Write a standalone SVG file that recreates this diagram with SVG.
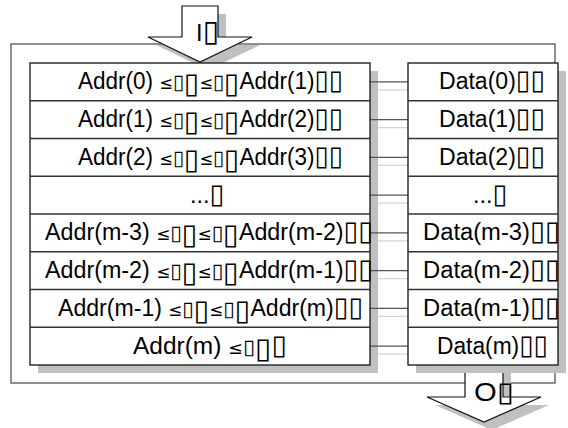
<svg xmlns="http://www.w3.org/2000/svg" width="568" height="428" viewBox="0 0 568 428">
  <style>
    .frame { fill: #fff; stroke: #555; stroke-width: 1.3; }
    .shadow { fill: #c0c0c0; stroke: none; }
    .arrow { fill: #fff; stroke: #111; stroke-width: 1.2; }
    .col { fill: #fff; stroke: #111; stroke-width: 1.3; }
    .sep { stroke: #333; stroke-width: 1.3; }
    .link { stroke: #555; stroke-width: 1.3; }
    .link-sh { stroke: #d4d4d4; stroke-width: 1.3; }
    text { font-family: "Liberation Sans", "DejaVu Sans", sans-serif; font-size: 23.5px; fill: #000; }
    .cell { text-anchor: middle; }
    .tofu { font-family: "DejaVu Sans", sans-serif; font-size: 27px; }
    .tall { font-family: "DejaVu Sans", sans-serif; font-size: 29px; }
    .sm { font-family: "DejaVu Sans", sans-serif; font-size: 21px; }
    .le { font-family: "DejaVu Sans", sans-serif; font-size: 17px; }
  </style>

  <!-- enclosing frame -->
  <rect id="frame" class="frame" x="11" y="44" width="544" height="339"/>

  <!-- input arrow -->
  <g id="in-arrow">
    <polygon class="shadow" transform="translate(8,8)" points="182,6 218,6 218,37 252,37 200,62 148,37 182,37"/>
    <polygon class="arrow" points="182,6 218,6 218,37 252,37 200,62 148,37 182,37"/>
    <text x="196" y="41">I<tspan class="tofu" style="font-size:30px">▯</tspan></text>
  </g>

  <!-- output arrow -->
  <g id="out-arrow">
    <polygon class="shadow" transform="translate(8,8)" points="465,365 503,365 503,397 541,397 484,422 427,397 465,397"/>
    <polygon class="arrow" points="465,365 503,365 503,397 541,397 484,422 427,397 465,397"/>
    <text x="474" y="401" style="font-size:25px" textLength="40" lengthAdjust="spacingAndGlyphs">O<tspan class="tofu">▯</tspan></text>
  </g>

  <!-- column shadows -->
  <rect class="shadow" x="38" y="71" width="340" height="302"/>
  <rect class="shadow" x="416" y="71" width="150" height="302"/>

  <!-- connectors: address row to data row -->
  <g id="connectors">
    <g class="link-sh">
      <line x1="378" y1="89.9" x2="416" y2="89.9"/>
      <line x1="378" y1="127.6" x2="416" y2="127.6"/>
      <line x1="378" y1="165.4" x2="416" y2="165.4"/>
      <line x1="378" y1="203.1" x2="416" y2="203.1"/>
      <line x1="378" y1="240.9" x2="416" y2="240.9"/>
      <line x1="378" y1="278.6" x2="416" y2="278.6"/>
      <line x1="378" y1="316.4" x2="416" y2="316.4"/>
      <line x1="378" y1="354.1" x2="416" y2="354.1"/>
    </g>
    <g class="link">
      <line x1="370" y1="81.9" x2="408" y2="81.9"/>
      <line x1="370" y1="119.6" x2="408" y2="119.6"/>
      <line x1="370" y1="157.4" x2="408" y2="157.4"/>
      <line x1="370" y1="195.1" x2="408" y2="195.1"/>
      <line x1="370" y1="232.9" x2="408" y2="232.9"/>
      <line x1="370" y1="270.6" x2="408" y2="270.6"/>
      <line x1="370" y1="308.4" x2="408" y2="308.4"/>
      <line x1="370" y1="346.1" x2="408" y2="346.1"/>
    </g>
  </g>

  <!-- address column -->
  <g id="addr">
    <rect class="col" x="30" y="63" width="340" height="302"/>
    <g class="sep">
      <line x1="30" y1="100.75" x2="370" y2="100.75"/>
      <line x1="30" y1="138.5" x2="370" y2="138.5"/>
      <line x1="30" y1="176.25" x2="370" y2="176.25"/>
      <line x1="30" y1="214" x2="370" y2="214"/>
      <line x1="30" y1="251.75" x2="370" y2="251.75"/>
      <line x1="30" y1="289.5" x2="370" y2="289.5"/>
      <line x1="30" y1="327.25" x2="370" y2="327.25"/>
    </g>
    <text id="addr0" class="cell" x="210.5" y="89.4" textLength="265" lengthAdjust="spacingAndGlyphs">Addr(0) <tspan class="le">≤</tspan><tspan class="sm">▯</tspan><tspan class="tall" dy="4">▯</tspan><tspan class="le" dy="-4">≤</tspan><tspan class="sm">▯</tspan><tspan class="tall" dy="4">▯</tspan><tspan dy="-4">Addr(1)</tspan><tspan class="tofu">▯▯</tspan></text>
    <text id="addr1" class="cell" x="210.5" y="127.15" textLength="265" lengthAdjust="spacingAndGlyphs">Addr(1) <tspan class="le">≤</tspan><tspan class="sm">▯</tspan><tspan class="tall" dy="4">▯</tspan><tspan class="le" dy="-4">≤</tspan><tspan class="sm">▯</tspan><tspan class="tall" dy="4">▯</tspan><tspan dy="-4">Addr(2)</tspan><tspan class="tofu">▯▯</tspan></text>
    <text id="addr2" class="cell" x="210.5" y="164.9" textLength="265" lengthAdjust="spacingAndGlyphs">Addr(2) <tspan class="le">≤</tspan><tspan class="sm">▯</tspan><tspan class="tall" dy="4">▯</tspan><tspan class="le" dy="-4">≤</tspan><tspan class="sm">▯</tspan><tspan class="tall" dy="4">▯</tspan><tspan dy="-4">Addr(3)</tspan><tspan class="tofu">▯▯</tspan></text>
    <text id="addr3" x="190" y="202.65">...<tspan class="tofu">▯</tspan></text>
    <text id="addr4" class="cell" x="209" y="240.4" textLength="328" lengthAdjust="spacingAndGlyphs">Addr(m-3) <tspan class="le">≤</tspan><tspan class="sm">▯</tspan><tspan class="tall" dy="4">▯</tspan><tspan class="le" dy="-4">≤</tspan><tspan class="sm">▯</tspan><tspan class="tall" dy="4">▯</tspan><tspan dy="-4">Addr(m-2)</tspan><tspan class="tofu">▯▯</tspan></text>
    <text id="addr5" class="cell" x="209" y="278.15" textLength="328" lengthAdjust="spacingAndGlyphs">Addr(m-2) <tspan class="le">≤</tspan><tspan class="sm">▯</tspan><tspan class="tall" dy="4">▯</tspan><tspan class="le" dy="-4">≤</tspan><tspan class="sm">▯</tspan><tspan class="tall" dy="4">▯</tspan><tspan dy="-4">Addr(m-1)</tspan><tspan class="tofu">▯▯</tspan></text>
    <text id="addr6" class="cell" x="210.5" y="315.9" textLength="305" lengthAdjust="spacingAndGlyphs">Addr(m-1) <tspan class="le">≤</tspan><tspan class="sm">▯</tspan><tspan class="tall" dy="4">▯</tspan><tspan class="le" dy="-4">≤</tspan><tspan class="sm">▯</tspan><tspan class="tall" dy="4">▯</tspan><tspan dy="-4">Addr(m)</tspan><tspan class="tofu">▯▯</tspan></text>
    <text id="addr7" class="cell" x="210" y="353.65" textLength="154" lengthAdjust="spacingAndGlyphs">Addr(m) <tspan class="le">≤</tspan><tspan class="sm">▯</tspan><tspan class="tall" dy="4">▯</tspan><tspan class="tofu" dy="-4">▯</tspan></text>
  </g>

  <!-- data column -->
  <g id="data">
    <rect class="col" x="408" y="63" width="150" height="302"/>
    <g class="sep">
      <line x1="408" y1="100.75" x2="558" y2="100.75"/>
      <line x1="408" y1="138.5" x2="558" y2="138.5"/>
      <line x1="408" y1="176.25" x2="558" y2="176.25"/>
      <line x1="408" y1="214" x2="558" y2="214"/>
      <line x1="408" y1="251.75" x2="558" y2="251.75"/>
      <line x1="408" y1="289.5" x2="558" y2="289.5"/>
      <line x1="408" y1="327.25" x2="558" y2="327.25"/>
    </g>
    <text id="data0" class="cell" x="492" y="89.4" textLength="106" lengthAdjust="spacingAndGlyphs">Data(0)<tspan class="tofu">▯▯</tspan></text>
    <text id="data1" class="cell" x="492" y="127.15" textLength="106" lengthAdjust="spacingAndGlyphs">Data(1)<tspan class="tofu">▯▯</tspan></text>
    <text id="data2" class="cell" x="492" y="164.9" textLength="106" lengthAdjust="spacingAndGlyphs">Data(2)<tspan class="tofu">▯▯</tspan></text>
    <text id="data3" x="473" y="202.65">...<tspan class="tofu">▯</tspan></text>
    <text id="data4" class="cell" x="491.5" y="240.4" textLength="137" lengthAdjust="spacingAndGlyphs">Data(m-3)<tspan class="tofu">▯▯</tspan></text>
    <text id="data5" class="cell" x="491.5" y="278.15" textLength="137" lengthAdjust="spacingAndGlyphs">Data(m-2)<tspan class="tofu">▯▯</tspan></text>
    <text id="data6" class="cell" x="491.5" y="315.9" textLength="137" lengthAdjust="spacingAndGlyphs">Data(m-1)<tspan class="tofu">▯▯</tspan></text>
    <text id="data7" class="cell" x="492.5" y="353.65" textLength="111" lengthAdjust="spacingAndGlyphs">Data(m)<tspan class="tofu">▯▯</tspan></text>
  </g>
</svg>
